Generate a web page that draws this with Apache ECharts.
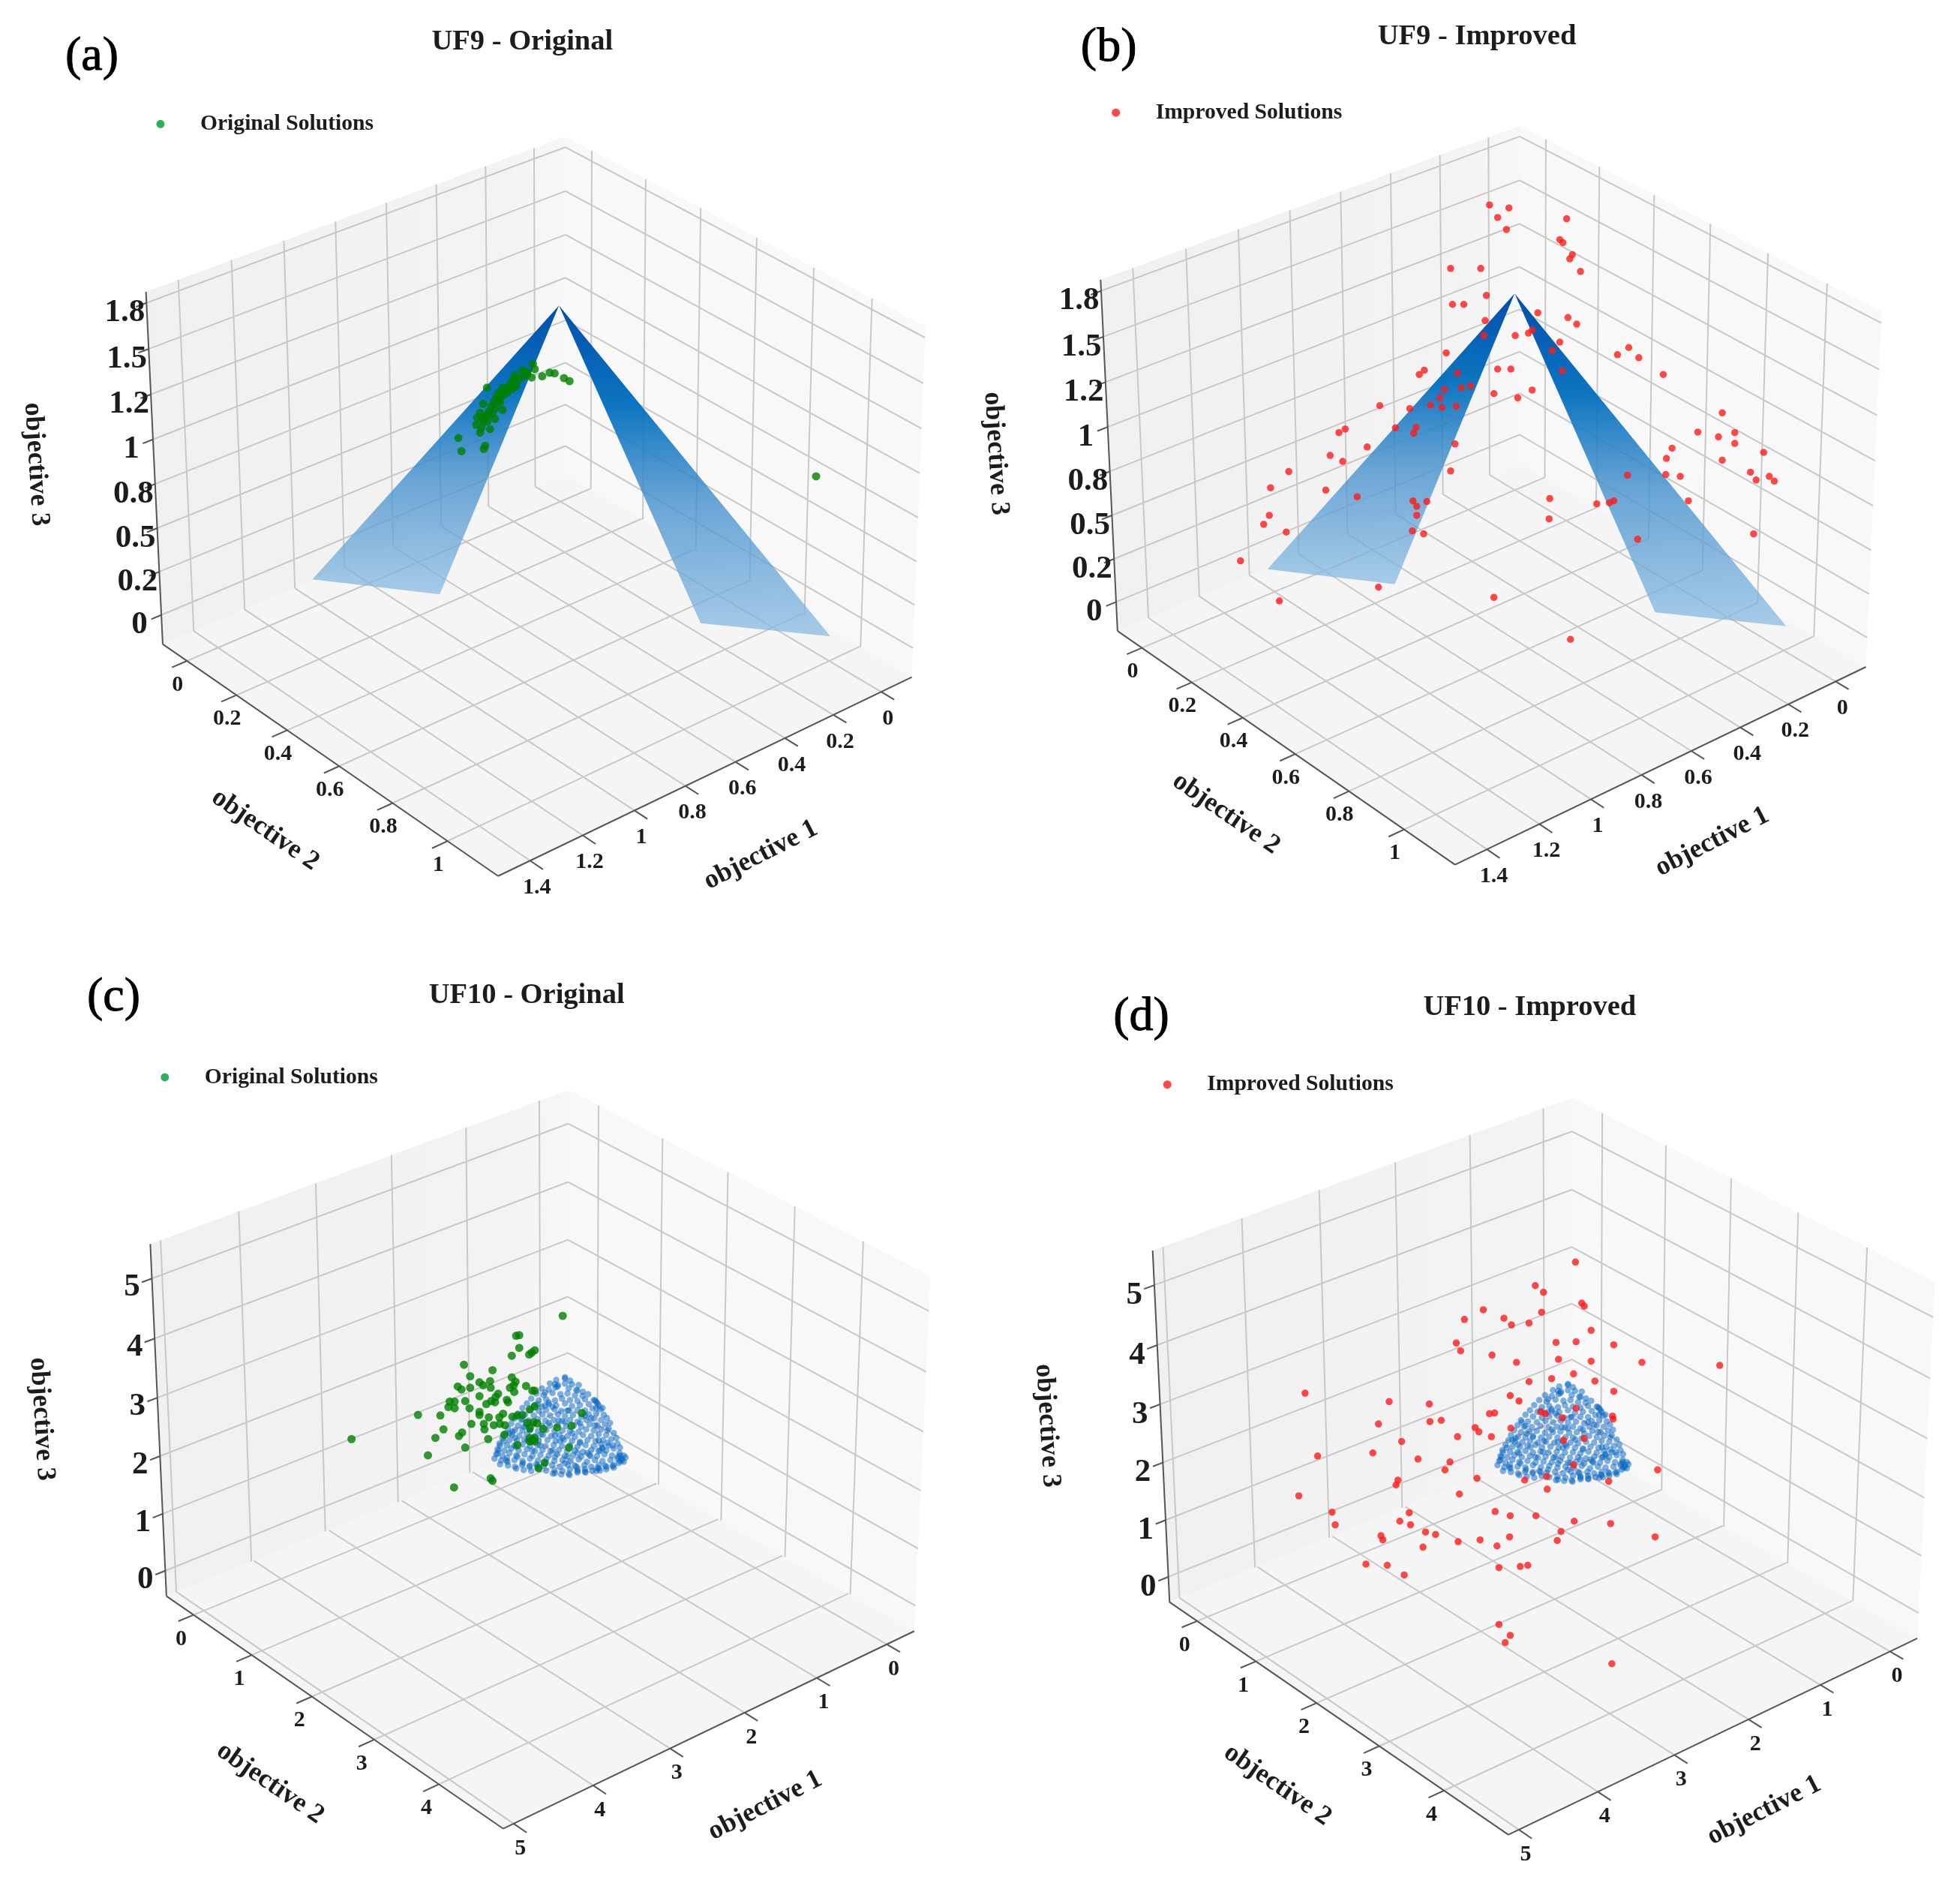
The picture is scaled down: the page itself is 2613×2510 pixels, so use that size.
<!DOCTYPE html>
<html><head><meta charset="utf-8">
<style>html,body{margin:0;padding:0;background:#fff}#c{width:2613px;height:2510px;filter:blur(0.6px)}</style>
<script src="https://cdn.jsdelivr.net/npm/echarts@6/dist/echarts.min.js"></script>
</head><body><div id="c"></div>
<script>
// ---- tick labels
const tickUF9o1=[0,0.2,0.4,0.6,0.8,1,1.2,1.4];
const tickUF9o2=[0,0.2,0.4,0.6,0.8,1];
const tickUF9o3=[0,0.25,0.5,0.75,1,1.25,1.5,1.75];
const tickUF9o3Text=['0','0.2','0.5','0.8','1','1.2','1.5','1.8'];
const tickUF10o1=[0,1,2,3,4,5];
const tickUF10o2=[0,1,2,3,4];
const tickUF10o3=[0,1,2,3,4,5];
const tickUF10o3Text=['0','1','2','3','4','5'];
// ---- solutions, as read on the view plane of each panel
const solutionsA=[[738,731],[743,753],[779,749],[781,744],[784,647],[778,674],[773,689],[768,697],[767,709],[773,722],[789,716],[797,699],[809,684],[775,714],[779,705],[783,695],[787,687],[791,678],[795,670],[799,662],[803,655],[809,647],[815,651],[819,645],[823,639],[829,626],[831,645],[835,634],[841,618],[843,628],[849,624],[856,630],[858,607],[861,616],[873,628],[885,622],[893,623],[908,631],[917,636],[785,703],[793,691],[801,668],[805,664],[811,659],[817,655],[797,682],[805,672],[785,691],[777,699],[825,649],[847,620],[827,632],[1314,795]];
const solutionsB=[[820,342],[851,347],[833,363],[847,383],[943,365],[932,400],[937,405],[952,425],[948,432],[965,453],[758,448],[806,448],[815,493],[761,508],[779,508],[813,535],[811,560],[861,560],[897,522],[945,530],[959,541],[882,556],[888,551],[932,571],[920,585],[751,589],[936,619],[1024,592],[1042,580],[1058,597],[1097,625],[716,618],[708,625],[769,623],[833,616],[854,616],[748,650],[775,647],[790,644],[741,664],[827,657],[865,664],[888,651],[645,677],[693,682],[726,676],[744,680],[767,678],[670,714],[703,713],[699,723],[580,722],[590,716],[625,746],[765,741],[566,760],[586,770],[500,787],[758,786],[471,814],[559,818],[609,829],[698,836],[704,845],[720,837],[704,860],[469,860],[460,875],[496,888],[697,886],[715,891],[423,936],[643,980],[485,1003],[827,997],[949,1067],[916,832],[915,866],[991,841],[1011,839],[1018,836],[1040,793],[1056,900],[1101,792],[1124,795],[1102,765],[1111,748],[1137,836],[1241,891],[1191,689],[1152,721],[1185,729],[1211,722],[1211,740],[1191,768],[1257,755],[1236,788],[1245,801],[1266,795],[1274,803]];
const solutionsC=[[906,626],[831,659],[836,658],[836,679],[824,692],[852,690],[856,687],[861,683],[747,707],[793,716],[757,726],[824,728],[789,734],[772,736],[830,735],[778,741],[827,741],[790,745],[757,745],[737,743],[743,748],[821,745],[828,752],[847,742],[857,750],[861,750],[772,759],[802,755],[798,760],[724,768],[732,768],[749,767],[791,767],[797,769],[783,772],[816,765],[818,769],[722,777],[732,779],[756,779],[853,781],[861,776],[673,790],[709,791],[772,785],[772,790],[810,788],[787,794],[825,793],[833,791],[841,790],[804,794],[937,787],[759,805],[779,805],[795,807],[805,805],[813,807],[849,803],[859,802],[865,804],[853,812],[875,813],[897,811],[920,808],[714,814],[780,814],[744,819],[739,825],[701,828],[786,830],[812,823],[853,828],[853,834],[861,828],[861,834],[857,832],[749,844],[833,840],[916,844],[689,857],[877,869],[867,878],[790,895],[793,899],[731,910],[566,830]];
const solutionsD=[[957,537],[893,576],[906,587],[967,605],[971,610],[903,620],[810,616],[780,632],[843,630],[855,641],[883,638],[767,671],[774,684],[926,670],[958,669],[982,650],[1018,674],[824,691],[863,703],[930,698],[982,701],[1063,703],[1187,708],[883,735],[919,730],[954,722],[988,734],[1018,751],[526,754],[660,768],[724,772],[853,758],[867,767],[902,785],[909,788],[958,779],[820,788],[828,787],[936,795],[1016,792],[1017,797],[643,805],[725,801],[743,799],[797,811],[803,818],[854,812],[769,826],[823,826],[680,834],[938,832],[971,829],[634,853],[546,858],[706,863],[757,868],[749,881],[954,873],[1088,881],[674,898],[671,906],[800,895],[876,898],[911,892],[1010,900],[912,913],[772,921],[516,924],[569,951],[692,952],[829,950],[853,957],[894,957],[574,972],[677,966],[694,972],[955,966],[1013,970],[647,990],[650,997],[718,984],[734,988],[934,983],[852,992],[1084,992],[805,997],[770,1000],[928,998],[832,1007],[714,1009],[623,1037],[657,1039],[684,1055],[835,1043],[869,1041],[881,1039],[835,1137],[853,1155],[845,1167],[1015,1202]];
// ---- UF10 reference front cloud, same points in panels c and d, estimated
const cloudUF10=[[640,347],[605,358],[660,360],[580,372],[612,378],[640,372],[668,375],[695,378],[548,392],[575,396],[602,388],[655,392],[685,398],[712,405],[525,412],[555,418],[590,410],[622,415],[650,412],[680,420],[733,415],[710,422],[505,432],[535,440],[565,435],[600,440],[628,432],[660,438],[690,442],[720,435],[755,438],[488,452],[518,458],[548,465],[575,455],[605,460],[640,452],[668,462],[700,458],[735,455],[765,445],[775,460],[470,470],[500,478],[535,482],[565,478],[598,475],[625,482],[655,480],[690,478],[720,480],[750,472],[782,475],[452,492],[480,497],[515,500],[550,495],[580,500],[612,495],[640,502],[672,498],[705,505],[735,495],[765,492],[795,497],[438,512],[465,518],[495,520],[530,515],[562,522],[595,518],[628,522],[660,518],[690,525],[725,518],[755,512],[785,518],[808,510],[425,532],[452,540],[485,538],[515,535],[548,542],[580,540],[610,538],[645,542],[675,540],[705,545],[738,535],[770,540],[800,535],[820,530],[412,552],[440,558],[470,560],[500,555],[532,562],[565,558],[598,562],[630,560],[660,562],[695,565],[725,555],[755,560],[785,555],[815,552],[402,572],[428,578],[458,580],[488,575],[520,582],[552,578],[585,582],[618,578],[650,582],[680,585],[712,578],[745,582],[775,575],[805,578],[835,570],[390,592],[418,598],[448,600],[478,595],[535,600],[570,598],[603,602],[635,598],[668,602],[700,605],[730,598],[762,602],[792,598],[825,595],[845,590],[378,612],[408,618],[438,620],[470,615],[500,622],[530,618],[562,622],[595,618],[628,622],[660,620],[690,625],[722,618],[755,622],[785,615],[815,620],[850,612],[370,635],[398,640],[425,632],[455,640],[488,635],[520,642],[550,638],[582,642],[615,638],[648,642],[680,640],[712,645],[745,638],[775,642],[790,632],[805,640],[835,632],[860,628],[365,655],[390,662],[418,650],[445,660],[478,655],[510,662],[542,658],[575,660],[608,655],[640,662],[672,658],[705,665],[738,658],[768,662],[798,655],[828,660],[858,650],[875,660],[358,672],[385,680],[408,670],[410,685],[438,678],[470,682],[500,672],[532,680],[565,675],[598,682],[630,678],[662,682],[695,675],[728,685],[760,678],[790,682],[822,678],[850,672],[868,680],[882,668],[860,660],[380,695],[412,700],[440,705],[468,698],[498,705],[525,695],[555,702],[588,698],[620,705],[652,698],[685,705],[718,698],[745,705],[775,698],[805,705],[835,698],[855,690],[875,685],[445,712],[475,718],[505,722],[535,715],[565,720],[598,718],[630,722],[660,715],[690,722],[720,715],[750,720],[775,712],[805,715],[835,708],[592,732],[625,735],[658,738],[690,728],[722,728],[765,722],
[430,565],[418,572],[600,375],[610,384],[640,352],[760,440],[770,452],[765,470],[790,470],[852,665],[866,672],[860,682],[405,680],[375,640],[370,652],[700,610],[780,640],[790,628],[770,710],[780,720],[720,725],[690,716],[500,700],[472,690],[560,460],[575,448],[590,465],[455,500],[470,515],[490,600],[510,640],[540,620],[630,590],[620,602],[650,480],[690,400],[720,500],[760,540],[810,560],[830,620],[800,700],[830,702],[600,730],[655,733],[530,700],[380,620],[395,602],[440,590],[450,665],[590,640],[560,690],[730,650],[742,662],[680,700],[650,664],[560,408],[530,455],[615,520],[640,525],[575,530],[545,575],[510,590],[475,545],[445,625],[500,560],[600,580],[670,570],[700,530],[745,510],[775,600],[810,610],[690,650],[640,690],[600,665]];
// ---- UF9 reference front outlines on the view plane
const surfaceA=[[[900,510],[503,967],[708,992]],[[900,510],[1128,1040],[1337,1062]]];
const surfaceB=[[[860,490],[466,950],[669,975]],[[860,490],[1084,1022],[1293,1045]]];

const VW=1570,VH=1565;
const panels=[
 {title:'UF9 - Original',tag:'(a)',tagAt:[148,100],titleAt:[841,67],rect:[0,0,1300,1250],
  legend:'Original Solutions',color:'#008000',legendColor:'#009a2e',legendAt:[259,207],
  sol:solutionsA,surface:surfaceA,
  L:[262,1075],F:[802,1462],R:[1468,1130],B:[910,791],LT:[235,487],BT:[910,228],RT:[1490,545],
  o1:[-0.13,1.52],o2:[-0.10,1.18],o3:[-0.17,1.81],t1:tickUF9o1,t2:tickUF9o2,t3:tickUF9o3,t3s:tickUF9o3Text,
  off1:[11,45],off2:[-15,40],off3:[-35,17],names:[[1225,1427],[427,1385],[58,775]]},
 {title:'UF9 - Improved',tag:'(b)',tagAt:[213,85],titleAt:[800,58],rect:[1300,0,1313,1250],
  legend:'Improved Solutions',color:'#ff1a1a',legendColor:'#ff1a1a',legendAt:[225,188],
  sol:solutionsB,surface:surfaceB,
  L:[227,1053],F:[765,1443],R:[1420,1113],B:[868,772],LT:[200,467],BT:[868,210],RT:[1445,520],
  o1:[-0.13,1.52],o2:[-0.10,1.18],o3:[-0.17,1.81],t1:tickUF9o1,t2:tickUF9o2,t3:tickUF9o3,t3s:tickUF9o3Text,
  off1:[11,45],off2:[-15,40],off3:[-35,17],names:[[1175,1405],[400,1358],[33,757]]},
 {title:'UF10 - Original',tag:'(c)',tagAt:[183,105],titleAt:[848,92],rect:[0,1250,1300,1260],
  legend:'Original Solutions',color:'#008000',legendColor:'#009a2e',legendAt:[266,231],
  sol:solutionsC,cloudMap:[652,0.4026,584,0.414],
  L:[268,1090],F:[810,1475],R:[1472,1148],B:[915,820],LT:[242,507],BT:[915,252],RT:[1498,560],
  o1:[-0.40,5.13],o2:[-0.48,4.96],o3:[-0.45,5.57],t1:tickUF10o1,t2:tickUF10o2,t3:tickUF10o3,t3s:tickUF10o3Text,
  off1:[11,41],off2:[-20,40],off3:[-32,15],names:[[1232,1437],[435,1400],[67,797]]},
 {title:'UF10 - Improved',tag:'(d)',tagAt:[265,137],titleAt:[884,113],rect:[1300,1250,1313,1260],
  legend:'Improved Solutions',color:'#ff1a1a',legendColor:'#ff1a1a',legendAt:[307,243],
  sol:solutionsD,cloudMap:[690,0.3986,595,0.414],
  L:[310,1100],F:[850,1485],R:[1502,1160],B:[952,830],LT:[283,518],BT:[952,265],RT:[1530,570],
  o1:[-0.40,5.13],o2:[-0.48,4.96],o3:[-0.45,5.57],t1:tickUF10o1,t2:tickUF10o2,t3:tickUF10o3,t3s:tickUF10o3Text,
  off1:[11,41],off2:[-20,40],off3:[-32,17],names:[[1258,1445],[482,1403],[115,808]]}
];
const FONT='"Liberation Serif"', TXT='#1c1c1c', WALL_R='#f8f8f8', FLOOR='#f5f5f5', GRID='#c8c8c8', AXIS='#555555';

// plane mapping: (u,v) in [0,1]^2 -> quad p00,p10,p11,p01
function quad(p0,p1,p2,p3){
 const [x0,y0]=p0,[x1,y1]=p1,[x2,y2]=p2,[x3,y3]=p3;
 const sx=x0-x1+x2-x3, sy=y0-y1+y2-y3, d1x=x1-x2, d2x=x3-x2, d1y=y1-y2, d2y=y3-y2;
 const det=d1x*d2y-d2x*d1y, g=(sx*d2y-d2x*sy)/det, h=(d1x*sy-sx*d1y)/det;
 const a=x1-x0+g*x1,b=x3-x0+h*x3,d=y1-y0+g*y1,e=y3-y0+h*y3;
 return (u,v)=>{const w=g*u+h*v+1;return [(a*u+b*v+x0)/w,(d*u+e*v+y0)/w];};
}
const frac=(r,t)=>(t-r[0])/(r[1]-r[0]);
const wallLeftFill=()=>new echarts.graphic.LinearGradient(0,0,1,0,[{offset:0,color:'#f0f0f0'},{offset:0.85,color:'#f3f3f3'},{offset:1,color:'#f7f7f7'}]);

const grid=[],xAxis=[],yAxis=[],series=[],title=[],legend=[];
panels.forEach((p,i)=>{
 const [pl,pt,pw,ph]=p.rect;
 const sx=pw/VW, sy=ph/VH;
 grid.push({left:pl,top:pt,width:pw,height:ph,show:false});
 xAxis.push({type:'value',gridIndex:i,min:0,max:VW,show:false});
 yAxis.push({type:'value',gridIndex:i,min:0,max:VH,inverse:true,show:false});
 const floor=quad(p.B,p.L,p.F,p.R);      // u=o1, v=o2
 const left=quad(p.B,p.L,p.LT,p.BT);     // u=o1, v=o3
 const right=quad(p.B,p.R,p.RT,p.BT);    // u=o2, v=o3
 const polys=[[p.B,p.L,p.LT,p.BT,wallLeftFill()],[p.B,p.R,p.RT,p.BT,WALL_R],[p.B,p.L,p.F,p.R,FLOOR]];
 const gridLines=[], axisLines=[[p.L,p.LT],[p.L,p.F],[p.F,p.R]];
 const txt=[];
 const over=0.035;
 p.t1.forEach((t,k)=>{const u=frac(p.o1,t);
  gridLines.push([floor(u,0),floor(u,1)],[left(u,0),left(u,1)]);
  axisLines.push([floor(u,1),floor(u,1+over)]);
  const a=floor(u,1);txt.push({x:a[0]+p.off1[0],y:a[1]+p.off1[1],s:String(t),size:30});});
 p.t2.forEach((t,k)=>{const u=frac(p.o2,t);
  gridLines.push([floor(0,u),floor(1,u)],[right(u,0),right(u,1)]);
  axisLines.push([floor(1,u),floor(1+over,u)]);
  const a=floor(1,u);txt.push({x:a[0]+p.off2[0],y:a[1]+p.off2[1],s:String(t),size:30});});
 p.t3.forEach((t,k)=>{const v=frac(p.o3,t);
  gridLines.push([left(1,v),left(0,v)],[right(0,v),right(1,v)]);
  axisLines.push([left(1,v),left(1+over/1.5,v)]);
  const a=left(1,v);txt.push({x:a[0]+p.off3[0],y:a[1]+p.off3[1],s:p.t3s[k],size:43});});
 txt.push({x:p.names[0][0],y:p.names[0][1],s:'objective 1',size:36,rot:27});
 txt.push({x:p.names[1][0],y:p.names[1][1],s:'objective 2',size:36,rot:-34.5});
 txt.push({x:p.names[2][0],y:p.names[2][1],s:'objective 3',size:36,rot:-86.5});

 const poly=(name,list,styler)=>({name,type:'custom',xAxisIndex:i,yAxisIndex:i,silent:true,clip:false,
   data:list.map(q=>q[0]),
   renderItem:(pa,api)=>{const q=list[pa.dataIndex];
     const pts=q.filter(x=>Array.isArray(x)).map(x=>api.coord(x));
     return {type:'polygon',shape:{points:pts},style:styler(q)};}});
 const seg=(name,list,color,width)=>({name,type:'custom',xAxisIndex:i,yAxisIndex:i,silent:true,clip:false,
   data:list.map(q=>q[0]),
   renderItem:(pa,api)=>{const q=list[pa.dataIndex],a=api.coord(q[0]),b=api.coord(q[1]);
     return {type:'line',shape:{x1:a[0],y1:a[1],x2:b[0],y2:b[1]},style:{stroke:color,lineWidth:width,fill:null}};}});
 series.push(poly('walls',polys,q=>({fill:q[4]})));
 series.push(seg('grid',gridLines,GRID,2));
 if(p.surface){
  series.push(poly('reference front',p.surface,()=>({fill:new echarts.graphic.LinearGradient(0,0,0,1,[
    {offset:0,color:'rgba(0,78,170,1)'},{offset:0.3,color:'rgba(0,110,190,0.95)'},
    {offset:0.6,color:'rgba(70,145,205,0.8)'},{offset:1,color:'rgba(135,186,226,0.72)'}])})));
 }
 if(p.cloudMap){
  const m=p.cloudMap;
  series.push({name:'reference front',type:'scatter',xAxisIndex:i,yAxisIndex:i,silent:true,symbolSize:8.5,
   itemStyle:{color:'rgba(0,100,195,0.62)'},large:false,
   data:cloudUF10.map(c=>[m[0]+m[1]*c[0],m[2]+m[3]*c[1]])});
 }
 series.push(seg('axes',axisLines,AXIS,2));
 series.push({name:p.legend,type:'scatter',xAxisIndex:i,yAxisIndex:i,silent:true,
   symbolSize:p.color==='#008000'?11:9.5,itemStyle:{color:p.color},data:p.sol});
 series.push({name:'labels',type:'custom',xAxisIndex:i,yAxisIndex:i,silent:true,clip:false,
   data:txt.map(t=>[t.x,t.y]),
   renderItem:(pa,api)=>{const t=txt[pa.dataIndex],c=api.coord([t.x,t.y]);
     return {type:'text',x:c[0],y:c[1],rotation:(t.rot||0)*Math.PI/180,
       style:{text:t.s,fill:TXT,fontFamily:FONT,fontWeight:'bold',fontSize:t.size,align:'center',verticalAlign:'middle'}};}});
 title.push({text:p.title,left:pl+p.titleAt[0]*sx,top:pt+p.titleAt[1]*sy-17,textAlign:'center',padding:0,
   textStyle:{fontFamily:FONT,fontWeight:'bold',fontSize:38.5,color:TXT}});
 title.push({text:p.tag,left:pl+p.tagAt[0]*sx,top:pt+p.tagAt[1]*sy-36,textAlign:'center',padding:0,
   textStyle:{fontFamily:FONT,fontWeight:'normal',fontSize:64,color:'#000',textBorderColor:'#000',textBorderWidth:1}});
 legend.push({data:[p.legend],left:pl+p.legendAt[0]*sx-6,top:pt+p.legendAt[1]*sy-15,padding:0,
   itemWidth:96,itemHeight:11,itemGap:0,icon:'circle',selectedMode:false,
   itemStyle:{color:p.legendColor},
   textStyle:{fontFamily:FONT,fontWeight:'bold',fontSize:29.6,color:TXT}});
});
const chart=echarts.init(document.getElementById('c'),null,{renderer:'canvas',width:2613,height:2510});
chart.setOption({animation:false,backgroundColor:'#ffffff',grid,xAxis,yAxis,title,legend,series,tooltip:{show:false}});
</script></body></html>
